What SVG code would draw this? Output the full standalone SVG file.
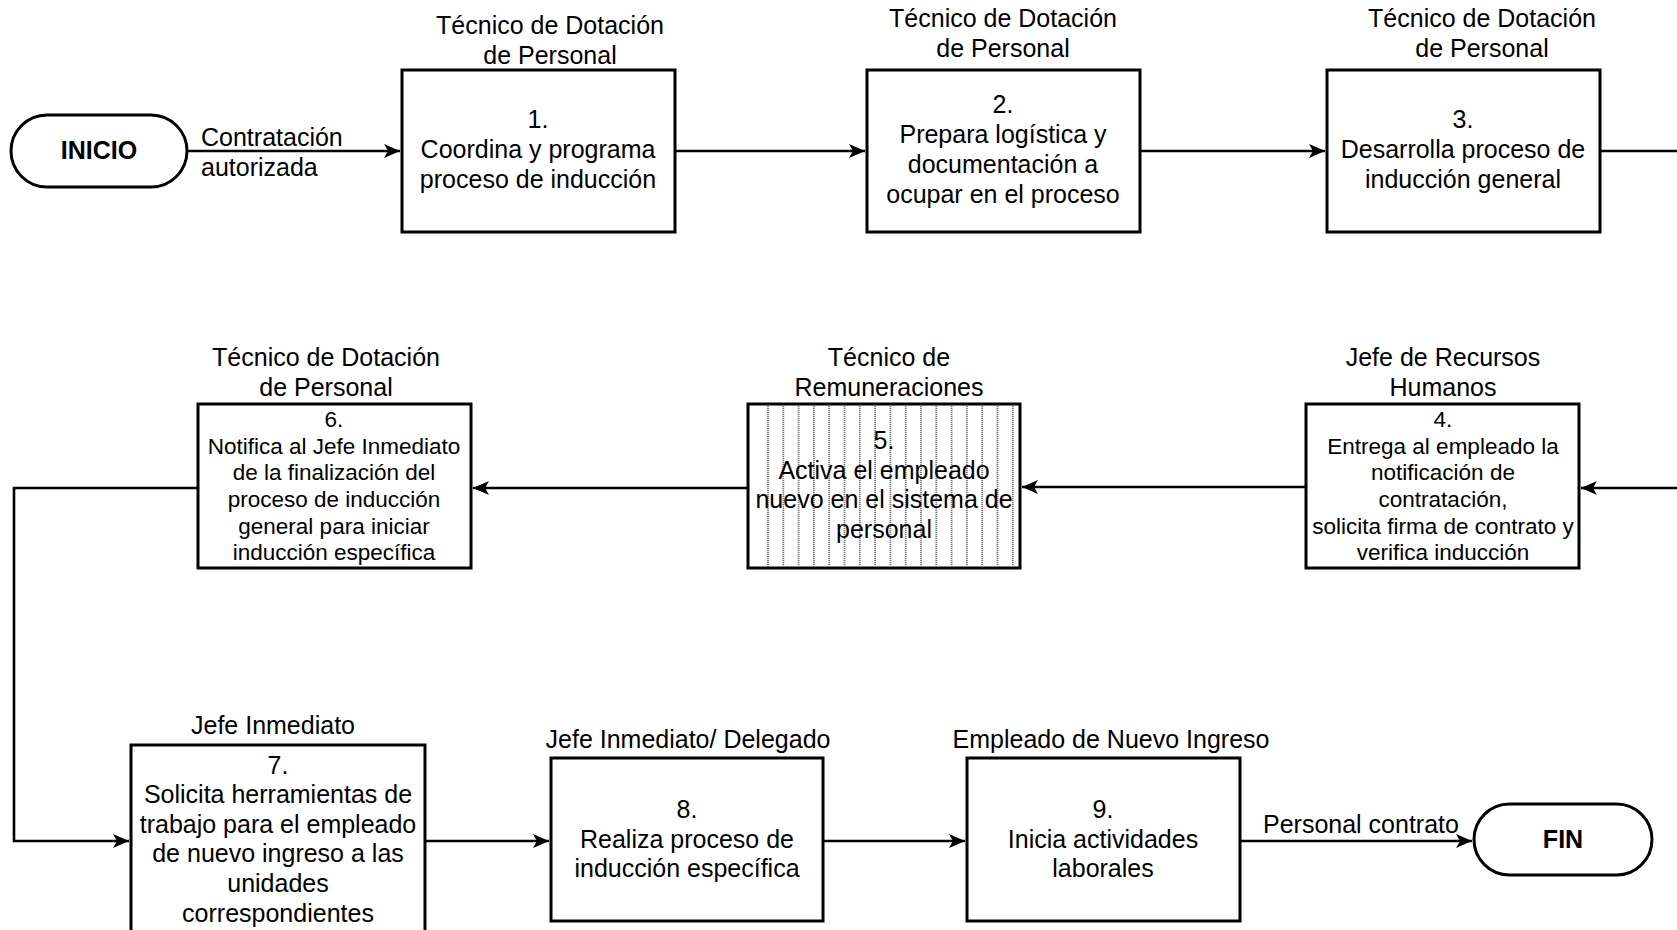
<svg xmlns="http://www.w3.org/2000/svg" width="1677" height="930" viewBox="0 0 1677 930">
  <style>
    text { font-family: "Liberation Sans", Arial, sans-serif; fill: #000; }
    .t { font-size: 25px; text-anchor: middle; }
    .s { font-size: 22.5px; text-anchor: middle; }
    .l { font-size: 25px; text-anchor: start; }
    .b { font-size: 25px; font-weight: bold; text-anchor: middle; }
    .box { fill: #fff; stroke: #000; stroke-width: 3; }
    .term { fill: #fff; stroke: #000; stroke-width: 3; }
    .edge { fill: none; stroke: #000; stroke-width: 2.6; }
    .hatch { stroke: #7a7a7a; stroke-width: 1.8; stroke-dasharray: 1.2 0.8; }
  </style>
  <defs>
    <marker id="arrow" markerUnits="userSpaceOnUse" markerWidth="17" markerHeight="15" refX="16" refY="7" orient="auto">
      <path d="M0,0 L16,7 L0,14 L4,7 z" fill="#000"/>
    </marker>
  </defs>
  <rect width="1677" height="930" fill="#fff"/>

  <!-- connectors -->
  <g id="connectors">
    <path class="edge" d="M187,151 H400" marker-end="url(#arrow)"/>
    <path class="edge" d="M675,151 H865" marker-end="url(#arrow)"/>
    <path class="edge" d="M1140,151 H1325" marker-end="url(#arrow)"/>
    <path class="edge" d="M1600,151 H1677"/>
    <path class="edge" d="M1677,488 H1581" marker-end="url(#arrow)"/>
    <path class="edge" d="M1306,487 H1022" marker-end="url(#arrow)"/>
    <path class="edge" d="M748,488 H473" marker-end="url(#arrow)"/>
    <path class="edge" d="M198,488 H14 V841 H129" marker-end="url(#arrow)"/>
    <path class="edge" d="M425,841 H549" marker-end="url(#arrow)"/>
    <path class="edge" d="M823,841 H965" marker-end="url(#arrow)"/>
    <path class="edge" d="M1240,841 H1472" marker-end="url(#arrow)"/>
    <text class="l" x="201" y="146">Contratación</text>
    <text class="l" x="201" y="176">autorizada</text>
    <text class="l" x="1263" y="833">Personal contrato</text>
  </g>

  <!-- start terminal -->
  <g id="inicio">
    <rect class="term" x="11" y="115" width="176" height="72" rx="36" ry="36"/>
    <text class="b" x="99" y="159">INICIO</text>
  </g>

  <!-- step 1 -->
  <g id="step1">
    <text class="t" x="550" y="34">Técnico de Dotación</text>
    <text class="t" x="550" y="64">de Personal</text>
    <rect class="box" x="402" y="70" width="273" height="162"/>
    <text class="t" x="538" y="128">1.</text>
    <text class="t" x="538" y="158">Coordina y programa</text>
    <text class="t" x="538" y="188">proceso de inducción</text>
  </g>

  <!-- step 2 -->
  <g id="step2">
    <text class="t" x="1003" y="27">Técnico de Dotación</text>
    <text class="t" x="1003" y="57">de Personal</text>
    <rect class="box" x="867" y="70" width="273" height="162"/>
    <text class="t" x="1003" y="113">2.</text>
    <text class="t" x="1003" y="143">Prepara logística y</text>
    <text class="t" x="1003" y="173">documentación a</text>
    <text class="t" x="1003" y="203">ocupar en el proceso</text>
  </g>

  <!-- step 3 -->
  <g id="step3">
    <text class="t" x="1482" y="27">Técnico de Dotación</text>
    <text class="t" x="1482" y="57">de Personal</text>
    <rect class="box" x="1327" y="70" width="273" height="162"/>
    <text class="t" x="1463" y="128">3.</text>
    <text class="t" x="1463" y="158">Desarrolla proceso de</text>
    <text class="t" x="1463" y="188">inducción general</text>
  </g>

  <!-- step 4 -->
  <g id="step4">
    <text class="t" x="1443" y="366">Jefe de Recursos</text>
    <text class="t" x="1443" y="396">Humanos</text>
    <rect class="box" x="1306" y="404" width="273" height="164"/>
    <text class="s" x="1443" y="427">4.</text>
    <text class="s" x="1443" y="454">Entrega al empleado la</text>
    <text class="s" x="1443" y="480">notificación de</text>
    <text class="s" x="1443" y="507">contratación,</text>
    <text class="s" x="1443" y="534">solicita firma de contrato y</text>
    <text class="s" x="1443" y="560">verifica inducción</text>
  </g>

  <!-- step 5 (hatched) -->
  <g id="step5">
    <text class="t" x="889" y="366">Técnico de</text>
    <text class="t" x="889" y="396">Remuneraciones</text>
    <rect class="box" x="748" y="404" width="272" height="164"/>
    <g class="hatch">
      <line x1="768" y1="406" x2="768" y2="566"/>
      <line x1="783.3" y1="406" x2="783.3" y2="566"/>
      <line x1="798.6" y1="406" x2="798.6" y2="566"/>
      <line x1="813.9" y1="406" x2="813.9" y2="566"/>
      <line x1="829.2" y1="406" x2="829.2" y2="566"/>
      <line x1="844.5" y1="406" x2="844.5" y2="566"/>
      <line x1="859.8" y1="406" x2="859.8" y2="566"/>
      <line x1="875.1" y1="406" x2="875.1" y2="566"/>
      <line x1="890.4" y1="406" x2="890.4" y2="566"/>
      <line x1="905.7" y1="406" x2="905.7" y2="566"/>
      <line x1="921" y1="406" x2="921" y2="566"/>
      <line x1="936.3" y1="406" x2="936.3" y2="566"/>
      <line x1="951.6" y1="406" x2="951.6" y2="566"/>
      <line x1="966.9" y1="406" x2="966.9" y2="566"/>
      <line x1="982.2" y1="406" x2="982.2" y2="566"/>
      <line x1="997.5" y1="406" x2="997.5" y2="566"/>
      <line x1="1012.8" y1="406" x2="1012.8" y2="566"/>
    </g>
    <text class="t" x="884" y="449">5.</text>
    <text class="t" x="884" y="479">Activa el empleado</text>
    <text class="t" x="884" y="508">nuevo en el sistema de</text>
    <text class="t" x="884" y="538">personal</text>
  </g>

  <!-- step 6 -->
  <g id="step6">
    <text class="t" x="326" y="366">Técnico de Dotación</text>
    <text class="t" x="326" y="396">de Personal</text>
    <rect class="box" x="198" y="404" width="273" height="164"/>
    <text class="s" x="334" y="427">6.</text>
    <text class="s" x="334" y="454">Notifica al Jefe Inmediato</text>
    <text class="s" x="334" y="480">de la finalización del</text>
    <text class="s" x="334" y="507">proceso de inducción</text>
    <text class="s" x="334" y="534">general para iniciar</text>
    <text class="s" x="334" y="560">inducción específica</text>
  </g>

  <!-- step 7 -->
  <g id="step7">
    <text class="t" x="273" y="734">Jefe Inmediato</text>
    <rect class="box" x="131" y="745" width="294" height="200"/>
    <text class="t" x="278" y="774">7.</text>
    <text class="t" x="278" y="803">Solicita herramientas de</text>
    <text class="t" x="278" y="833">trabajo para el empleado</text>
    <text class="t" x="278" y="862">de nuevo ingreso a las</text>
    <text class="t" x="278" y="892">unidades</text>
    <text class="t" x="278" y="922">correspondientes</text>
  </g>

  <!-- step 8 -->
  <g id="step8">
    <text class="t" x="688" y="748">Jefe Inmediato/ Delegado</text>
    <rect class="box" x="551" y="758" width="272" height="163"/>
    <text class="t" x="687" y="818">8.</text>
    <text class="t" x="687" y="848">Realiza proceso de</text>
    <text class="t" x="687" y="877">inducción específica</text>
  </g>

  <!-- step 9 -->
  <g id="step9">
    <text class="t" x="1111" y="748">Empleado de Nuevo Ingreso</text>
    <rect class="box" x="967" y="758" width="273" height="163"/>
    <text class="t" x="1103" y="818">9.</text>
    <text class="t" x="1103" y="848">Inicia actividades</text>
    <text class="t" x="1103" y="877">laborales</text>
  </g>

  <!-- end terminal -->
  <g id="fin">
    <rect class="term" x="1474" y="804" width="178" height="71" rx="35.5" ry="35.5"/>
    <text class="b" x="1563" y="848">FIN</text>
  </g>
</svg>
